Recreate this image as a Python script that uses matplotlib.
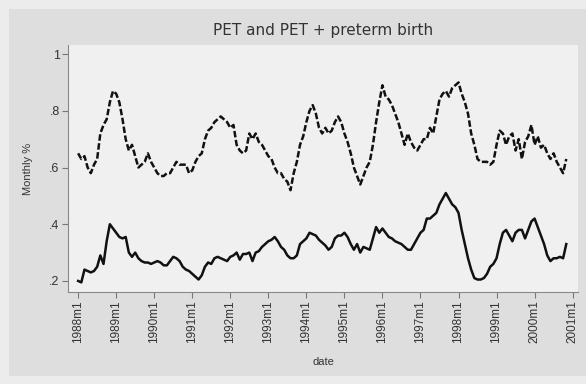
import numpy as np
import matplotlib
matplotlib.use('Agg')
import matplotlib.pyplot as plt
from matplotlib.patches import Rectangle

# monthly values, 1988m1 .. 2000m11
pet = [
    .65, .63, .64, .60, .58, .61, .63, .72, .75, .77, .83, .87,   # 1988
    .86, .83, .77, .70, .66, .68, .64, .60, .61, .62, .65, .62,   # 1989
    .60, .58, .57, .57, .58, .58, .60, .62, .61, .61, .61, .58,   # 1990
    .59, .62, .64, .65, .70, .73, .74, .76, .77, .78, .77, .76,   # 1991
    .74, .75, .68, .66, .65, .66, .72, .70, .72, .69, .68, .66,   # 1992
    .64, .63, .60, .58, .58, .56, .55, .52, .58, .62, .68, .71,   # 1993
    .76, .80, .82, .79, .74, .72, .74, .72, .73, .76, .78, .76,   # 1994
    .72, .69, .65, .60, .57, .54, .57, .60, .62, .68, .76, .83,   # 1995
    .89, .85, .84, .82, .79, .76, .72, .68, .72, .69, .67, .66,   # 1996
    .68, .70, .70, .74, .72, .78, .84, .86, .87, .85, .88, .89,   # 1997
    .90, .86, .83, .79, .72, .68, .63, .62, .62, .62, .61, .62,   # 1998
    .68, .73, .72, .68, .71, .72, .66, .70, .63, .69, .71, .75,   # 1999
    .68, .71, .67, .68, .65, .63, .65, .62, .60, .58, .63,        # 2000
]
pet_preterm = [
    .20, .195, .24, .235, .23, .235, .25, .29, .26, .34, .40, .385,   # 1988
    .37, .355, .35, .355, .30, .285, .30, .28, .27, .265, .265, .26,  # 1989
    .265, .27, .265, .255, .255, .27, .285, .28, .27, .25, .24, .235, # 1990
    .225, .215, .205, .22, .25, .265, .26, .28, .285, .28, .275, .27, # 1991
    .285, .29, .30, .275, .295, .295, .30, .27, .30, .305, .32, .33,  # 1992
    .34, .345, .355, .34, .32, .31, .29, .28, .28, .29, .33, .34,     # 1993
    .35, .37, .365, .36, .345, .335, .325, .31, .32, .35, .36, .36,   # 1994
    .37, .355, .33, .31, .33, .30, .32, .315, .31, .35, .39, .37,     # 1995
    .385, .37, .355, .35, .34, .335, .33, .32, .31, .31, .33, .35,   # 1996
    .37, .38, .42, .42, .43, .44, .47, .49, .51, .49, .47, .46,       # 1997
    .44, .38, .33, .28, .24, .21, .205, .205, .21, .225, .25, .26,    # 1998
    .28, .33, .37, .38, .36, .34, .37, .38, .38, .35, .38, .41,       # 1999
    .42, .39, .36, .33, .29, .27, .28, .28, .285, .28, .33,           # 2000
]
years = list(range(1988, 2002))
tick_labels = [f'{y}m1' for y in years]
y_ticks = [.2, .4, .6, .8, 1]
y_labels = ['.2', '.4', '.6', '.8', '1']

months = np.arange(len(pet))

fig = plt.figure(figsize=(5.86, 3.84), dpi=100)
fig.patch.set_facecolor('#ececec')
# inner graph region (behind the axes)
fig.patches.append(Rectangle((9/586, 0.02), 1, 1 - 9/384 - 0.02, transform=fig.transFigure,
                             facecolor='#dedede', edgecolor='none', zorder=-10))

ax = fig.add_axes([68/586, 1 - 292/384, 510/586, 247/384])
ax.set_facecolor('#f0f0f0')

ax.plot(months, pet, color='#111111', lw=1.8, ls=(0, (2.6, 1.0)))
ax.plot(months, pet_preterm, color='#111111', lw=1.8)

ax.set_xlim(-3.2, 157.7)
ax.set_ylim(0.161, 1.032)
ax.set_xticks([12 * i for i in range(len(years))])
ax.set_xticklabels(tick_labels, rotation=90, fontsize=8.5, color='#333333',
                   family='Liberation Sans')
ax.set_yticks(y_ticks)
ax.set_yticklabels(y_labels, fontsize=9, color='#333333', family='Liberation Sans')
ax.tick_params(length=4, width=0.8, color='#777777', pad=2)

for s in ['top', 'right']:
    ax.spines[s].set_visible(False)
for s in ['left', 'bottom']:
    ax.spines[s].set_color('#888888')
    ax.spines[s].set_linewidth(0.8)

ax.set_xlabel('date', fontsize=8, color='#333333', labelpad=10, family='Liberation Sans')
ax.set_ylabel('Monthly %', fontsize=8, color='#333333', labelpad=12, family='Liberation Sans')
ax.set_title('PET and PET + preterm birth', fontsize=11, color='#333333', pad=7)

fig.savefig('out.png', dpi=100, facecolor=fig.get_facecolor())
